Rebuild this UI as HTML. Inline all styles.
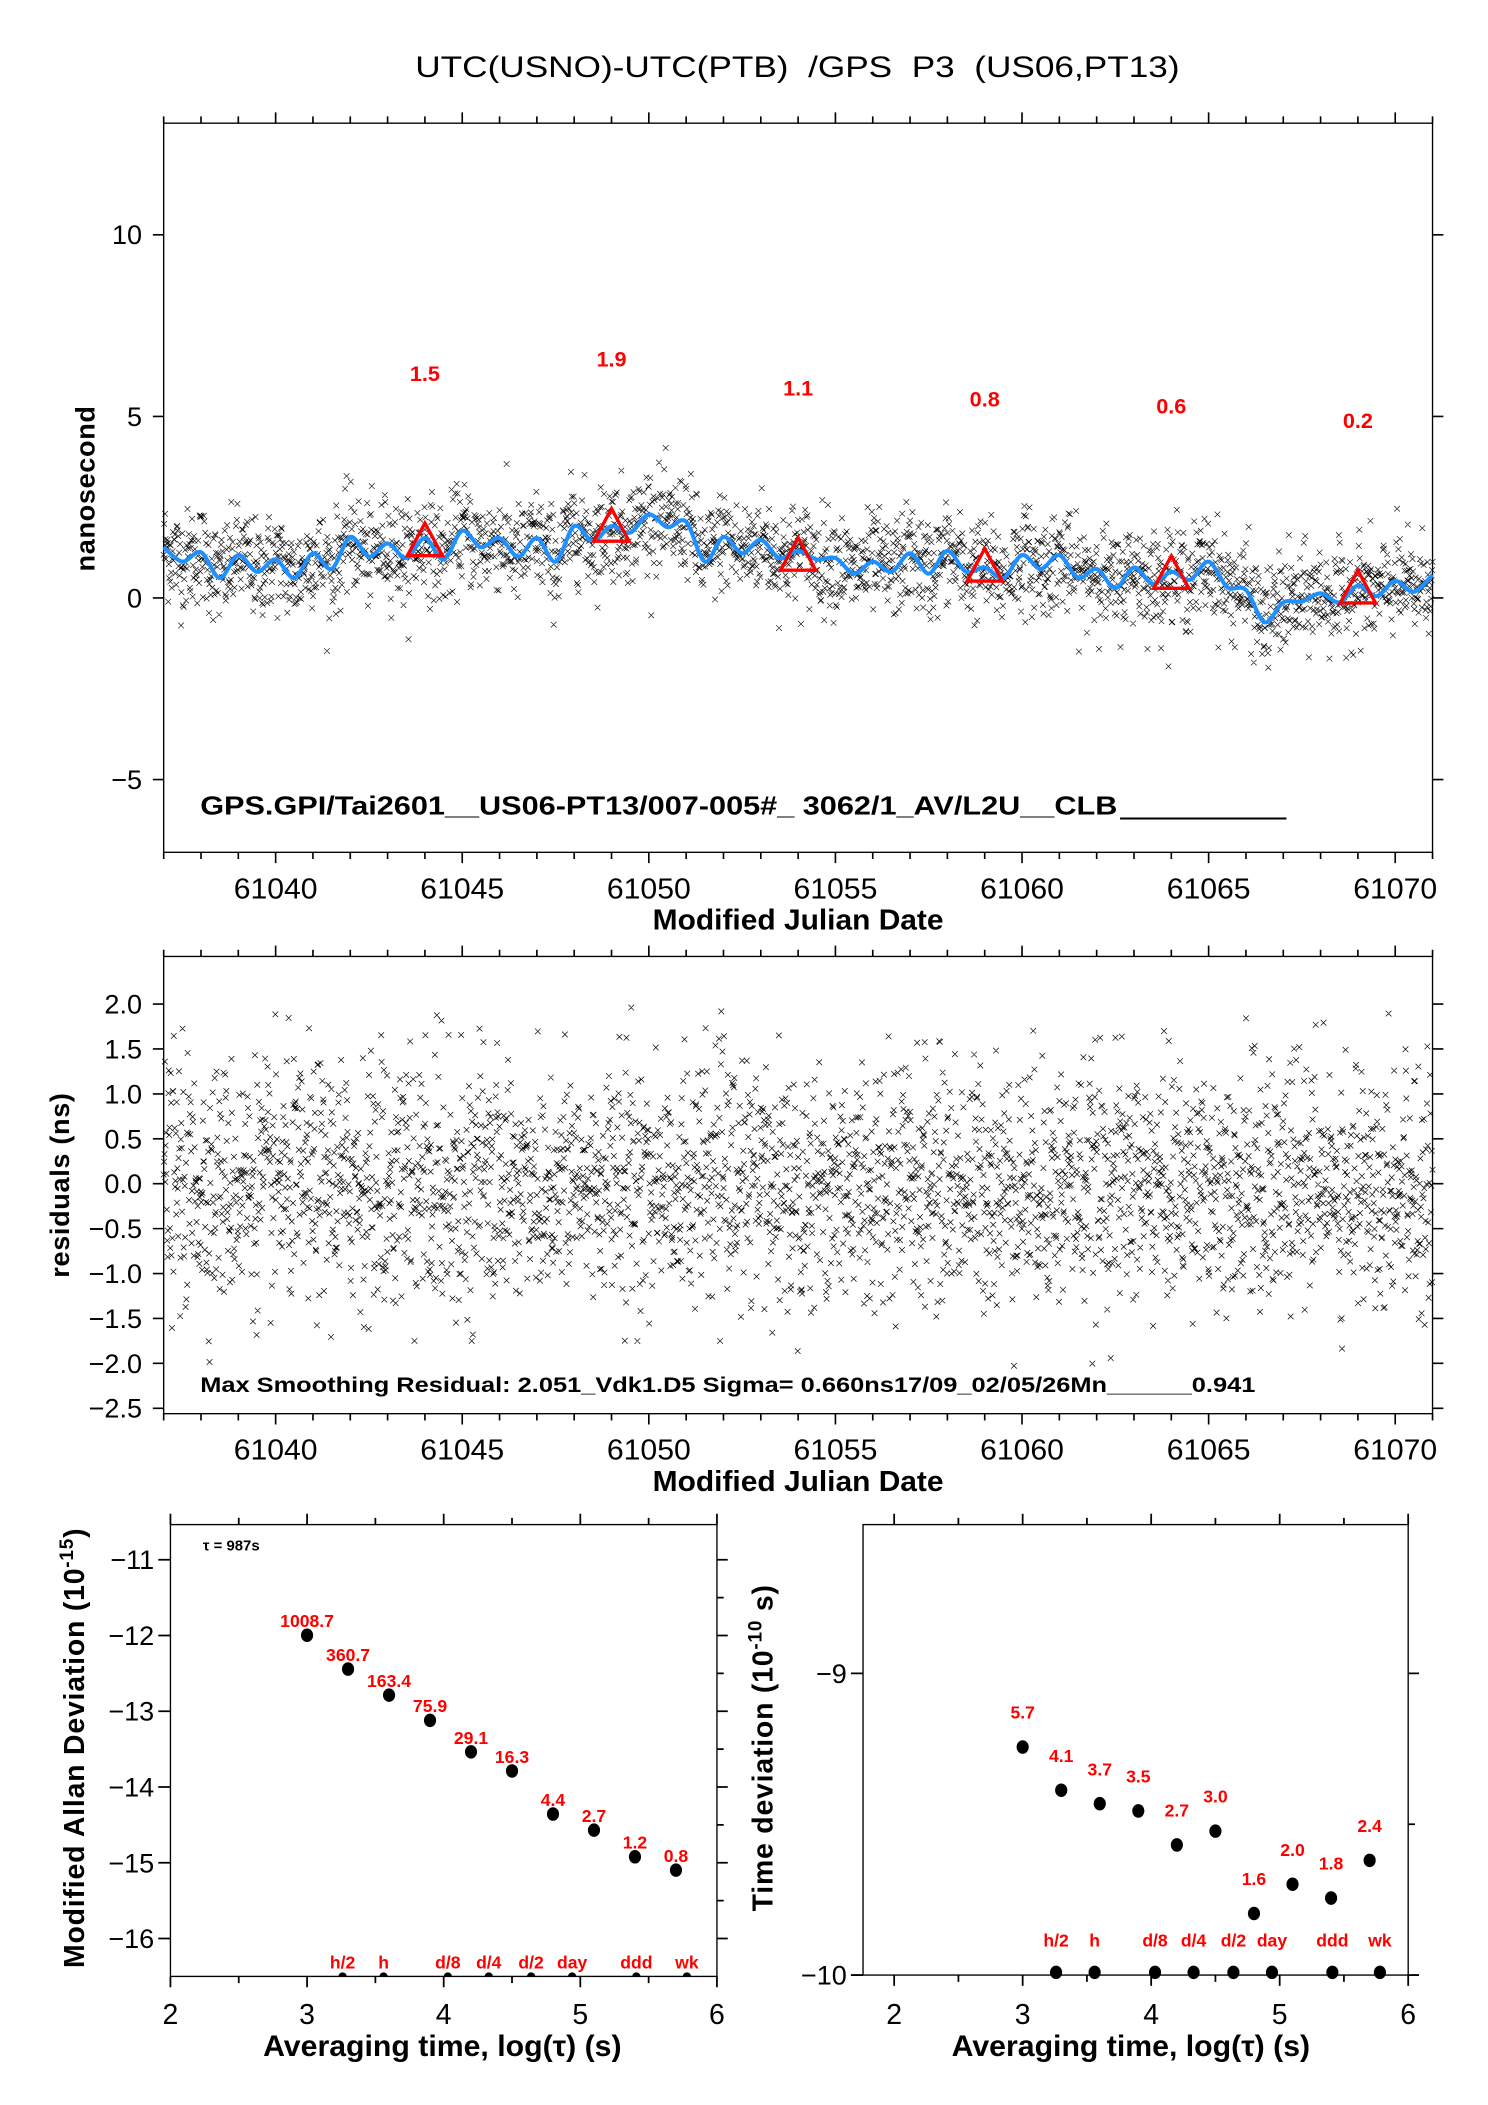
<!DOCTYPE html>
<html><head><meta charset="utf-8"><title>UTC(USNO)-UTC(PTB) GPS P3</title>
<style>
html,body{margin:0;padding:0;background:#fff;}
svg{display:block;font-family:"Liberation Sans",sans-serif;}
</style></head>
<body>
<svg id="fig" width="1488" height="2105" viewBox="0 0 1100 1556" xmlns="http://www.w3.org/2000/svg">
<rect width="1100" height="1556" fill="#fff"/>
<text x="307" y="57" font-size="22" textLength="565" lengthAdjust="spacingAndGlyphs" xml:space="preserve" fill="#000">UTC(USNO)-UTC(PTB)  /GPS  P3  (US06,PT13)</text>
<g id="gTop"></g>
<g id="gMid"></g>
<g id="gBL"></g>
<g id="gBR"></g>
</svg>
<script>
// ---- data ----
const mjdStart = 61037.0;
const smoothStepDays = 0.5;
const smoothValues = [1.4,1.0,1.26,0.55,1.18,0.72,1.06,0.55,1.23,0.8,
 1.68,1.14,1.5,1.1,1.65,1.06,1.85,1.4,1.65,1.14,
 1.65,1.0,1.98,1.57,1.98,1.8,2.3,1.95,2.1,1.0,
 1.68,1.23,1.6,1.1,1.3,1.06,1.1,0.67,1.0,0.72,
 1.23,0.67,1.3,0.72,0.84,0.55,1.18,0.8,1.18,0.55,
 0.8,0.27,0.84,0.39,0.72,0.5,1.0,0.3,0.22,-0.67,
 -0.12,-0.1,0.13,-0.12,0.34,0.05,0.47,0.17,0.64];
const triangleDays = [61044,61049,61054,61059,61064,61069];
const triangleValues = [1.5,1.9,1.1,0.8,0.6,0.2];
const triangleLabels = ["1.5","1.9","1.1","0.8","0.6","0.2"];
const topYTicks = [10,5,0,-5];
const topYTickLabels = ["10","5","0","\u22125"];
const mjdTicks = [61040,61045,61050,61055,61060,61065,61070];
const midYTicks = [2.0,1.5,1.0,0.5,0.0,-0.5,-1.0,-1.5,-2.0,-2.5];
const midYTickLabels = ["2.0","1.5","1.0","0.5","0.0","\u22120.5","\u22121.0","\u22121.5","\u22122.0","\u22122.5"];
const residualSigma = 0.66;
const residualMax = 2.051;
const logTau = [3.0,3.3,3.6,3.9,4.2,4.5,4.8,5.1,5.4,5.7];
const mdevValues = [1008.7,360.7,163.4,75.9,29.1,16.3,4.4,2.7,1.2,0.8];
const mdevLabels = ["1008.7","360.7","163.4","75.9","29.1","16.3","4.4","2.7","1.2","0.8"];
const tdevValues = [5.7,4.1,3.7,3.5,2.7,3.0,1.6,2.0,1.8,2.4];
const tdevLabels = ["5.7","4.1","3.7","3.5","2.7","3.0","1.6","2.0","1.8","2.4"];
const markerNames = ["h/2","h","d/8","d/4","d/2","day","ddd","wk"];
const markerLogTau = [3.26,3.56,4.03,4.33,4.64,4.94,5.41,5.78];
const mdevYTicks = [-11,-12,-13,-14,-15,-16];
const mdevYTickLabels = ["\u221211","\u221212","\u221213","\u221214","\u221215","\u221216"];
const tdevYTicks = [-9,-10];
const tdevYTickLabels = ["\u22129","\u221210"];
const logTauTicks = [2,3,4,5,6];

// ---- helpers ----
const NS="http://www.w3.org/2000/svg";
function mk(parent,tag,attrs,text){const e=document.createElementNS(NS,tag);for(const k in attrs)e.setAttribute(k,attrs[k]);if(text!==undefined)e.textContent=text;parent.appendChild(e);return e;}

// ---- axes ----
const L=121,R=1059;
const xJ=d=>L+(d-61037)*(R-L)/34;
const yT=v=>442-v*26.85;
const yM=v=>875-v*66.4;
const xA=l=>126+(l-2)*101;
const yA=v=>1209-(v+12)*56;
const xB=l=>661+(l-2)*95;
const yB=v=>1460-(v+10)*223;

// deterministic scatter texture generator (sampling of the residual spread)
let seed=12345;
function rnd(){seed=(seed*1103515245+12345)%2147483648;return seed/2147483648;}
function gauss(){let u=rnd()||1e-9,v=rnd();return Math.sqrt(-2*Math.log(u))*Math.cos(2*Math.PI*v);}
function smoothAt(d){const t=(d-mjdStart)/smoothStepDays;let i=Math.floor(t);if(i<0)i=0;if(i>=smoothValues.length-1)i=smoothValues.length-2;const f=t-i;return smoothValues[i]*(1-f)+smoothValues[i+1]*f;}
function xmark(x,y){const h=2.1;return `M${(x-h).toFixed(1)},${(y-h).toFixed(1)}l${2*h},${2*h}M${(x-h).toFixed(1)},${(y+h).toFixed(1)}l${2*h},${-2*h}`;}

function mjdPanel(g,top,bottom,yFn,yTicks,yLabels){
  const box=mk(g,'rect',{x:L,y:top,width:R-L,height:bottom-top,fill:'none',stroke:'#000','stroke-width':1});
  
  let p='';
  for(let d=61037;d<=61071;d++){
    const x=xJ(d);const major=(d%5===0);const len=major?8:5;
    p+=`M${x},${top}v${-len}M${x},${bottom}v${len}`;
  }
  yTicks.forEach(v=>{const y=yFn(v);p+=`M${L},${y}h-8M${R},${y}h8`;});
  const t=mk(g,'path',{d:p,stroke:'#000','stroke-width':1.2,fill:'none'});
  
  yTicks.forEach((v,i)=>{const e=mk(g,'text',{x:L-16,y:yFn(v)+7,'font-size':20,'text-anchor':'end'},yLabels[i]);
    });
  mjdTicks.forEach(d=>{const e=mk(g,'text',{x:xJ(d),y:bottom+34,'font-size':21,'text-anchor':'middle',textLength:62,lengthAdjust:'spacingAndGlyphs'},String(d));
    });
  const xt=mk(g,'text',{x:590,y:bottom+57,'font-size':21,'font-weight':'bold','text-anchor':'middle',textLength:215,lengthAdjust:'spacingAndGlyphs'},'Modified Julian Date');
  
}

// ---- top panel ----
const gTop=document.getElementById('gTop');
mjdPanel(gTop,91,630,yT,topYTicks,topYTickLabels);
{
  let p='';
  for(let d=61037.0;d<61071;d+=0.0125){
    const v=smoothAt(d)+gauss()*0.68;
    p+=xmark(xJ(d),yT(v));
  }
  const s=mk(gTop,'path',{d:p,stroke:'#000','stroke-width':0.45,fill:'none'});
  
  const pts=smoothValues.map((v,i)=>[xJ(mjdStart+i*smoothStepDays),yT(v)]);
  let c=`M${pts[0][0]},${pts[0][1]}`;
  for(let i=0;i<pts.length-1;i++){
    const p0=pts[Math.max(0,i-1)],p1=pts[i],p2=pts[i+1],p3=pts[Math.min(pts.length-1,i+2)];
    c+=`C${p1[0]+(p2[0]-p0[0])/6},${p1[1]+(p2[1]-p0[1])/6} ${p2[0]-(p3[0]-p1[0])/6},${p2[1]-(p3[1]-p1[1])/6} ${p2[0]},${p2[1]}`;
  }
  const sc=mk(gTop,'path',{d:c,stroke:'#1e90ff','stroke-width':3,fill:'none'});
  
  triangleDays.forEach((d,i)=>{
    const x=xJ(d),y=yT(triangleValues[i]);
    const tr=mk(gTop,'path',{d:`M${x},${y-15}L${x+13},${y+9}L${x-13},${y+9}Z`,stroke:'#ff0000','stroke-width':2.5,fill:'none'});
    
    const lb=mk(gTop,'text',{x:x,y:yT(triangleValues[i]+4.7)+6,'font-size':16,'font-weight':'bold',fill:'#ff0000','text-anchor':'middle'},triangleLabels[i]);
    
  });
  const yt=mk(gTop,'text',{x:70,y:361,'font-size':20,'font-weight':'bold','text-anchor':'middle',transform:'rotate(-90 70 361)','letter-spacing':'0.5'},'nanosecond');
  
  const info=mk(gTop,'text',{x:148,y:602,'font-size':19,'font-weight':'bold',textLength:678,lengthAdjust:'spacingAndGlyphs','xml:space':'preserve'},'GPS.GPI/Tai2601__US06-PT13/007-005#_  3062/1_AV/L2U__CLB');
  
  const ul=mk(gTop,'path',{d:'M828,605H951',stroke:'#000','stroke-width':1.5});
  
}

// ---- middle panel ----
const gMid=document.getElementById('gMid');
mjdPanel(gMid,707,1045,yM,midYTicks,midYTickLabels);
{
  let p='';
  for(let d=61037.0;d<61071;d+=0.0105){
    let v=gauss()*residualSigma; if(Math.abs(v)>residualMax) v=Math.sign(v)*(residualMax*rnd());
    p+=xmark(xJ(d),yM(v));
  }
  const s=mk(gMid,'path',{d:p,stroke:'#000','stroke-width':0.5,fill:'none'});
  
  const yt=mk(gMid,'text',{x:51,y:876,'font-size':20,'font-weight':'bold','text-anchor':'middle',transform:'rotate(-90 51 876)','letter-spacing':'0.5'},'residuals (ns)');
  
  const info=mk(gMid,'text',{x:148,y:1029,'font-size':16,'font-weight':'bold',textLength:780,lengthAdjust:'spacingAndGlyphs','xml:space':'preserve'},'Max Smoothing Residual: 2.051_Vdk1.D5  Sigma= 0.660ns17/09_02/05/26Mn______0.941');
  
}

// ---- stability panels ----
function stabPanel(g,x0,x1,top,bottom,xFn,yFn,yTicks,yLabels,minorY,titleX){
  const box=mk(g,'rect',{x:x0,y:top,width:x1-x0,height:bottom-top,fill:'none',stroke:'#000','stroke-width':1});
  
  let p='';
  for(let l=1.5;l<=6.01;l+=0.5){const x=xFn(l);if(x<x0-1||x>x1+1)continue;const len=(l%1===0)?8:5;p+=`M${x},${top}v${-len}M${x},${bottom}v${len}`;}
  yTicks.forEach(v=>{const y=yFn(v);p+=`M${x0},${y}h-9M${x1},${y}h8`;});
  minorY.forEach(v=>{const y=yFn(v);p+=`M${x1},${y}h5`;});
  const t=mk(g,'path',{d:p,stroke:'#000','stroke-width':1.3,fill:'none'});
  
  yTicks.forEach((v,i)=>{const e=mk(g,'text',{x:x0-12,y:yFn(v)+7,'font-size':20,'text-anchor':'end'},yLabels[i]);
    });
  logTauTicks.forEach(l=>{const e=mk(g,'text',{x:xFn(l),y:1496,'font-size':21,'text-anchor':'middle'},String(l));
    });
  const xt=mk(g,'text',{x:titleX,y:1520,'font-size':22,'font-weight':'bold','text-anchor':'middle',textLength:265,lengthAdjust:'spacingAndGlyphs'},'Averaging time, log(\u03c4) (s)');
  
}
const gBL=document.getElementById('gBL');
stabPanel(gBL,126,530,1127,1461,xA,yA,mdevYTicks,mdevYTickLabels,[-11.5,-12.5,-13.5,-14.5,-15.5],327);
{
  const tau=mk(gBL,'text',{x:150,y:1146,'font-size':11,'font-weight':'bold'},'\u03c4 = 987s');
  
  logTau.forEach((l,i)=>{
    const v=Math.log10(mdevValues[i])-15;
    const c=mk(gBL,'ellipse',{cx:xA(l),cy:yA(v),rx:4.5,ry:5,fill:'#000'});
    
    const lb=mk(gBL,'text',{x:xA(l),y:yA(v)-6,'font-size':13,'font-weight':'bold',fill:'#ff0000','text-anchor':'middle'},mdevLabels[i]);
    
  });
  markerLogTau.forEach((l,i)=>{
    const c=mk(gBL,'path',{d:`M${xA(l)-3},${yA(-16.5)}a3,3 0 0 1 6,0z`,fill:'#000'});
    
    const lb=mk(gBL,'text',{x:xA(l),y:yA(-16.5)-6,'font-size':13,'font-weight':'bold',fill:'#ff0000','text-anchor':'middle'},markerNames[i]);
    
  });
  const yt=mk(gBL,'text',{x:62,y:1292,'font-size':21,'font-weight':'bold','text-anchor':'middle',transform:'rotate(-90 62 1292)','letter-spacing':'0.6'});
  
  yt.appendChild(document.createTextNode('Modified Allan Deviation (10'));
  mk(yt,'tspan',{'font-size':14,dy:-8},'-15');
  mk(yt,'tspan',{dy:8},')');
}

const gBR=document.getElementById('gBR');
stabPanel(gBR,638,1041,1127,1460,xB,yB,tdevYTicks,tdevYTickLabels,[-9.5],836);
{
  logTau.forEach((l,i)=>{
    const v=Math.log10(tdevValues[i])-10;
    const c=mk(gBR,'ellipse',{cx:xB(l),cy:yB(v),rx:4.5,ry:5,fill:'#000'});
    
    const lb=mk(gBR,'text',{x:xB(l),y:yB(v)-21,'font-size':13,'font-weight':'bold',fill:'#ff0000','text-anchor':'middle'},tdevLabels[i]);
    
  });
  markerLogTau.forEach((l,i)=>{
    const c=mk(gBR,'ellipse',{cx:xB(l),cy:yB(-10)-2,rx:4.5,ry:5,fill:'#000'});
    
    const lb=mk(gBR,'text',{x:xB(l),y:1439,'font-size':13,'font-weight':'bold',fill:'#ff0000','text-anchor':'middle'},markerNames[i]);
    
  });
  const yt=mk(gBR,'text',{x:571,y:1292,'font-size':21,'font-weight':'bold','text-anchor':'middle',transform:'rotate(-90 571 1292)','letter-spacing':'0.6'});
  
  yt.appendChild(document.createTextNode('Time deviation (10'));
  mk(yt,'tspan',{'font-size':14,dy:-8},'-10');
  mk(yt,'tspan',{dy:8},' s)');
}
</script>
</body></html>
